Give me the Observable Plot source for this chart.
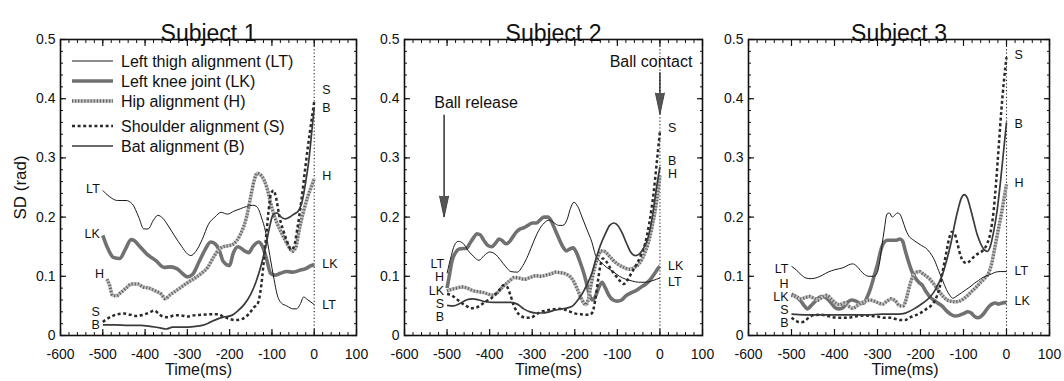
<!DOCTYPE html>
<html><head><meta charset="utf-8">
<script src="https://cdn.jsdelivr.net/npm/d3@7"></script>
<script src="https://cdn.jsdelivr.net/npm/@observablehq/plot@0.6"></script>
<style>
body{margin:0;background:#fff;}
#wrap{position:relative;width:1064px;height:381px;font-family:"Liberation Sans",Arial,sans-serif;overflow:hidden;}
#wrap svg.p{position:absolute;top:0;}
</style></head><body><div id="wrap"></div>
<script>
// ---------- data ----------
const subjects = ["Subject 1", "Subject 2", "Subject 3"];
const xTicks = [-600, -500, -400, -300, -200, -100, 0, 100];
const yTicks = [0, 0.1, 0.2, 0.3, 0.4, 0.5];
const seriesKeys = ["LT", "LK", "H", "S", "B"];
const seriesNames = ["Left thigh alignment (LT)", "Left knee joint (LK)", "Hip alignment (H)", "Shoulder alignment (S)", "Bat alignment (B)"];

// Subject 1  [time (ms), SD (rad)]
const s1_LT = [[-500,0.245],[-485,0.235],[-465,0.228],[-445,0.228],[-430,0.222],[-415,0.2],[-403,0.18],[-393,0.18],[-380,0.195],[-370,0.203],[-358,0.198],[-345,0.185],[-330,0.168],[-313,0.15],[-300,0.138],[-292,0.135],[-280,0.142],[-265,0.162],[-250,0.188],[-235,0.2],[-220,0.208],[-205,0.205],[-190,0.21],[-175,0.214],[-160,0.218],[-145,0.22],[-135,0.217],[-125,0.2],[-115,0.175],[-105,0.135],[-95,0.095],[-88,0.07],[-78,0.055],[-65,0.05],[-50,0.045],[-42,0.045],[-33,0.053],[-25,0.065],[-15,0.06],[-5,0.055],[0,0.052]];
const s1_LK = [[-500,0.169],[-490,0.15],[-475,0.132],[-460,0.13],[-447,0.145],[-433,0.162],[-425,0.16],[-412,0.15],[-395,0.137],[-375,0.127],[-355,0.115],[-340,0.116],[-325,0.113],[-312,0.105],[-300,0.099],[-288,0.103],[-272,0.125],[-258,0.145],[-245,0.158],[-235,0.155],[-225,0.145],[-215,0.125],[-200,0.118],[-192,0.138],[-180,0.15],[-165,0.143],[-155,0.14],[-145,0.15],[-132,0.158],[-122,0.15],[-113,0.13],[-103,0.105],[-93,0.102],[-80,0.105],[-65,0.108],[-50,0.107],[-35,0.11],[-20,0.113],[-10,0.117],[0,0.12]];
const s1_H = [[-490,0.095],[-484,0.085],[-477,0.068],[-468,0.067],[-458,0.072],[-445,0.08],[-432,0.087],[-418,0.087],[-405,0.082],[-390,0.08],[-375,0.075],[-362,0.07],[-352,0.062],[-342,0.068],[-328,0.075],[-312,0.083],[-298,0.09],[-280,0.098],[-265,0.106],[-252,0.115],[-240,0.13],[-228,0.143],[-215,0.15],[-200,0.152],[-190,0.155],[-175,0.17],[-160,0.2],[-150,0.235],[-142,0.262],[-135,0.274],[-125,0.27],[-112,0.25],[-100,0.215],[-88,0.19],[-75,0.17],[-62,0.152],[-52,0.142],[-44,0.148],[-35,0.18],[-25,0.21],[-15,0.235],[-5,0.255],[0,0.265]];
const s1_S = [[-500,0.023],[-490,0.028],[-480,0.032],[-465,0.036],[-450,0.037],[-435,0.035],[-420,0.033],[-405,0.035],[-392,0.038],[-378,0.042],[-368,0.037],[-358,0.032],[-345,0.031],[-330,0.034],[-315,0.034],[-300,0.032],[-285,0.034],[-265,0.035],[-245,0.036],[-228,0.036],[-215,0.032],[-200,0.028],[-185,0.026],[-170,0.028],[-155,0.036],[-143,0.047],[-133,0.055],[-126,0.08],[-120,0.12],[-114,0.165],[-108,0.21],[-102,0.24],[-96,0.245],[-90,0.232],[-82,0.2],[-72,0.175],[-62,0.155],[-55,0.145],[-48,0.15],[-40,0.18],[-30,0.23],[-20,0.29],[-10,0.345],[-3,0.38],[0,0.395]];
const s1_B = [[-500,0.018],[-470,0.018],[-440,0.017],[-410,0.017],[-385,0.015],[-365,0.013],[-350,0.011],[-335,0.014],[-310,0.014],[-285,0.015],[-265,0.017],[-250,0.021],[-235,0.026],[-215,0.031],[-195,0.034],[-180,0.042],[-165,0.053],[-150,0.07],[-138,0.09],[-125,0.12],[-115,0.15],[-105,0.185],[-98,0.203],[-88,0.207],[-78,0.2],[-68,0.197],[-58,0.2],[-48,0.205],[-38,0.21],[-28,0.228],[-20,0.26],[-12,0.3],[-5,0.35],[0,0.385]];

// Subject 2
const s2_LT = [[-500,0.105],[-490,0.135],[-483,0.152],[-474,0.159],[-463,0.156],[-450,0.143],[-437,0.133],[-425,0.127],[-413,0.135],[-400,0.141],[-388,0.138],[-375,0.128],[-362,0.116],[-350,0.108],[-335,0.107],[-322,0.118],[-310,0.135],[-297,0.158],[-285,0.177],[-272,0.19],[-260,0.195],[-248,0.19],[-238,0.186],[-228,0.186],[-218,0.196],[-210,0.215],[-202,0.225],[-193,0.218],[-183,0.2],[-172,0.18],[-160,0.158],[-151,0.135],[-140,0.125],[-125,0.115],[-110,0.108],[-95,0.1],[-80,0.095],[-65,0.092],[-50,0.09],[-35,0.09],[-20,0.092],[-8,0.095],[0,0.097]];
const s2_LK = [[-500,0.08],[-495,0.1],[-488,0.127],[-480,0.14],[-472,0.146],[-462,0.147],[-455,0.147],[-447,0.155],[-438,0.165],[-430,0.172],[-422,0.17],[-413,0.16],[-404,0.152],[-395,0.15],[-386,0.156],[-378,0.163],[-370,0.16],[-362,0.155],[-354,0.158],[-345,0.167],[-337,0.175],[-328,0.18],[-320,0.182],[-310,0.186],[-300,0.19],[-290,0.19],[-282,0.195],[-272,0.2],[-263,0.2],[-255,0.193],[-247,0.18],[-238,0.165],[-228,0.15],[-220,0.143],[-212,0.146],[-204,0.148],[-196,0.14],[-188,0.125],[-180,0.108],[-173,0.09],[-166,0.07],[-158,0.06],[-151,0.067],[-143,0.082],[-136,0.09],[-128,0.08],[-120,0.068],[-110,0.06],[-100,0.058],[-90,0.06],[-80,0.067],[-68,0.072],[-56,0.076],[-44,0.082],[-33,0.087],[-22,0.095],[-12,0.105],[-5,0.113],[0,0.117]];
const s2_H = [[-500,0.075],[-490,0.078],[-478,0.08],[-465,0.082],[-452,0.08],[-440,0.076],[-428,0.074],[-416,0.073],[-404,0.07],[-392,0.068],[-382,0.072],[-372,0.08],[-362,0.087],[-352,0.093],[-342,0.098],[-330,0.097],[-318,0.095],[-305,0.098],[-292,0.101],[-280,0.1],[-268,0.102],[-256,0.104],[-245,0.107],[-233,0.106],[-221,0.104],[-212,0.1],[-203,0.092],[-195,0.08],[-188,0.068],[-180,0.056],[-174,0.052],[-168,0.062],[-162,0.085],[-155,0.11],[-147,0.13],[-138,0.143],[-130,0.142],[-120,0.135],[-110,0.127],[-98,0.12],[-85,0.115],[-72,0.112],[-60,0.115],[-48,0.122],[-38,0.135],[-28,0.155],[-18,0.185],[-8,0.225],[0,0.27]];
const s2_S = [[-500,0.07],[-490,0.068],[-478,0.062],[-466,0.055],[-455,0.05],[-444,0.046],[-432,0.047],[-420,0.052],[-408,0.058],[-396,0.063],[-386,0.07],[-376,0.078],[-368,0.085],[-360,0.083],[-352,0.07],[-344,0.052],[-336,0.04],[-326,0.033],[-315,0.03],[-303,0.03],[-292,0.035],[-280,0.04],[-268,0.042],[-255,0.044],[-240,0.045],[-225,0.044],[-210,0.04],[-198,0.037],[-186,0.036],[-175,0.035],[-165,0.035],[-158,0.04],[-152,0.06],[-146,0.09],[-140,0.118],[-134,0.13],[-126,0.125],[-116,0.113],[-105,0.102],[-95,0.093],[-85,0.087],[-75,0.095],[-65,0.108],[-55,0.12],[-45,0.135],[-35,0.155],[-25,0.19],[-15,0.24],[-7,0.295],[0,0.345]];
const s2_B = [[-500,0.051],[-485,0.05],[-470,0.054],[-455,0.06],[-440,0.062],[-425,0.06],[-410,0.057],[-390,0.056],[-370,0.056],[-350,0.056],[-335,0.053],[-320,0.045],[-305,0.04],[-290,0.038],[-275,0.038],[-260,0.04],[-245,0.043],[-230,0.045],[-215,0.047],[-205,0.05],[-195,0.058],[-183,0.07],[-172,0.085],[-160,0.105],[-150,0.13],[-140,0.152],[-128,0.172],[-118,0.186],[-108,0.19],[-98,0.185],[-88,0.172],[-78,0.155],[-68,0.14],[-58,0.135],[-48,0.138],[-38,0.148],[-28,0.165],[-18,0.2],[-8,0.25],[0,0.285]];

// Subject 3
const s3_LT = [[-500,0.117],[-488,0.11],[-478,0.103],[-466,0.097],[-454,0.096],[-440,0.098],[-428,0.102],[-415,0.107],[-400,0.111],[-388,0.113],[-378,0.115],[-368,0.119],[-358,0.121],[-348,0.117],[-340,0.11],[-330,0.103],[-320,0.1],[-310,0.1],[-302,0.104],[-296,0.12],[-290,0.15],[-284,0.18],[-278,0.205],[-272,0.207],[-266,0.2],[-260,0.203],[-254,0.207],[-248,0.205],[-242,0.195],[-235,0.18],[-227,0.168],[-218,0.162],[-208,0.157],[-198,0.152],[-188,0.148],[-178,0.14],[-168,0.128],[-158,0.11],[-148,0.092],[-140,0.078],[-132,0.068],[-125,0.063],[-115,0.067],[-105,0.072],[-95,0.077],[-85,0.082],[-75,0.088],[-65,0.093],[-55,0.098],[-45,0.101],[-35,0.104],[-25,0.107],[-15,0.108],[0,0.108]];
const s3_LK = [[-500,0.07],[-488,0.065],[-479,0.059],[-470,0.05],[-463,0.045],[-455,0.05],[-447,0.056],[-438,0.063],[-430,0.066],[-420,0.064],[-410,0.057],[-400,0.048],[-390,0.045],[-380,0.047],[-370,0.056],[-360,0.06],[-350,0.058],[-340,0.054],[-332,0.055],[-324,0.065],[-316,0.08],[-308,0.1],[-300,0.12],[-292,0.145],[-284,0.158],[-276,0.161],[-266,0.161],[-256,0.161],[-248,0.163],[-242,0.16],[-236,0.145],[-228,0.125],[-220,0.108],[-212,0.097],[-204,0.09],[-196,0.085],[-188,0.075],[-180,0.067],[-170,0.06],[-160,0.055],[-150,0.05],[-140,0.042],[-130,0.036],[-120,0.033],[-110,0.034],[-100,0.037],[-90,0.04],[-82,0.038],[-74,0.032],[-66,0.03],[-58,0.033],[-50,0.04],[-42,0.048],[-34,0.053],[-26,0.055],[-18,0.053],[-10,0.055],[0,0.056]];
const s3_H = [[-500,0.068],[-488,0.065],[-478,0.062],[-468,0.064],[-458,0.066],[-448,0.063],[-438,0.06],[-428,0.065],[-418,0.068],[-408,0.062],[-398,0.055],[-388,0.052],[-378,0.055],[-368,0.05],[-358,0.046],[-348,0.05],[-338,0.055],[-328,0.058],[-318,0.06],[-308,0.058],[-298,0.055],[-288,0.053],[-278,0.058],[-268,0.062],[-258,0.058],[-248,0.05],[-240,0.05],[-232,0.065],[-225,0.085],[-218,0.1],[-210,0.107],[-202,0.108],[-194,0.104],[-186,0.1],[-178,0.095],[-170,0.088],[-162,0.08],[-154,0.072],[-146,0.065],[-138,0.06],[-130,0.058],[-120,0.057],[-110,0.058],[-100,0.062],[-90,0.068],[-80,0.075],[-70,0.082],[-60,0.09],[-50,0.097],[-42,0.105],[-35,0.12],[-28,0.145],[-20,0.175],[-12,0.205],[-5,0.235],[0,0.255]];
const s3_S = [[-500,0.03],[-490,0.025],[-480,0.022],[-470,0.024],[-460,0.03],[-450,0.034],[-435,0.035],[-420,0.034],[-405,0.031],[-390,0.03],[-375,0.03],[-360,0.031],[-345,0.033],[-330,0.034],[-315,0.033],[-300,0.032],[-285,0.03],[-270,0.03],[-258,0.028],[-246,0.026],[-236,0.026],[-226,0.03],[-216,0.033],[-206,0.036],[-196,0.04],[-186,0.045],[-176,0.05],[-166,0.06],[-156,0.08],[-148,0.11],[-140,0.14],[-133,0.165],[-127,0.175],[-121,0.172],[-114,0.155],[-107,0.135],[-100,0.125],[-93,0.122],[-85,0.126],[-77,0.132],[-69,0.137],[-61,0.14],[-53,0.145],[-45,0.155],[-37,0.175],[-30,0.21],[-24,0.26],[-18,0.32],[-12,0.38],[-6,0.43],[0,0.47]];
const s3_B = [[-500,0.036],[-470,0.035],[-440,0.035],[-410,0.035],[-380,0.035],[-350,0.035],[-320,0.035],[-290,0.036],[-260,0.036],[-240,0.037],[-228,0.04],[-215,0.045],[-200,0.052],[-185,0.06],[-170,0.072],[-158,0.088],[-148,0.105],[-138,0.13],[-128,0.16],[-120,0.19],[-112,0.215],[-105,0.232],[-98,0.238],[-91,0.232],[-84,0.215],[-76,0.192],[-68,0.17],[-60,0.155],[-52,0.145],[-45,0.142],[-38,0.15],[-30,0.175],[-22,0.21],[-14,0.26],[-7,0.31],[0,0.36]];

// series end-label values (SD, rad)
const s1_leftLabels  = [["LT",0.248],["LK",0.172],["H",0.104],["S",0.040],["B",0.017]];
const s1_rightLabels = [["S",0.414],["B",0.385],["H",0.270],["LK",0.120],["LT",0.051]];
const s2_leftLabels  = [["LT",0.121],["H",0.098],["LK",0.076],["S",0.054],["B",0.032]];
const s2_rightLabels = [["S",0.351],["B",0.295],["H",0.272],["LK",0.117],["LT",0.090]];
const s3_leftLabels  = [["LT",0.113],["H",0.087],["LK",0.065],["S",0.043],["B",0.021]];
const s3_rightLabels = [["S",0.473],["B",0.358],["H",0.257],["LT",0.109],["LK",0.059]];

// Subject 2 event annotations: [label, time, arrow top, arrow tip, label time, label SD]
const s2_events = [["Ball release",-507,0.372,0.200,-432,0.393],["Ball contact",0,0.444,0.374,-21,0.463]];

// ---------- drawing ----------
const FONT = '"Liberation Sans", Arial, Helvetica, sans-serif';
const xMinor = d3.range(-600, 101, 20);
const yMinor = d3.range(0, 26).map(i => i / 50);
const drawOrder = ["LK", "H", "LT", "S", "B"];
const styles = {
  LT: [{stroke: "#1a1a1a", strokeWidth: 1}],
  LK: [{stroke: "#717171", strokeWidth: 3.6}],
  H:  [{stroke: "#bdbdbd", strokeWidth: 3.4}, {stroke: "#616161", strokeWidth: 3.4, strokeDasharray: "1.1,2"}],
  S:  [{stroke: "#2a2a2a", strokeWidth: 2.5, strokeDasharray: "3,2.6"}],
  B:  [{stroke: "#3a3a3a", strokeWidth: 1.7}]
};

const panels = [
  {series: {LT: s1_LT, LK: s1_LK, H: s1_H, S: s1_S, B: s1_B}, leftLabels: s1_leftLabels, rightLabels: s1_rightLabels, events: [], left: 0,   width: 360, mL: 60, mR: 4,  xLabDx: -10, yLabel: true},
  {series: {LT: s2_LT, LK: s2_LK, H: s2_H, S: s2_S, B: s2_B}, leftLabels: s2_leftLabels, rightLabels: s2_rightLabels, events: s2_events, left: 360, width: 350, mL: 44, mR: 8,  xLabDx: -5, yLabel: false},
  {series: {LT: s3_LT, LK: s3_LK, H: s3_H, S: s3_S, B: s3_B}, leftLabels: s3_leftLabels, rightLabels: s3_rightLabels, events: [], left: 710, width: 354, mL: 38, mR: 15, xLabDx: 6, yLabel: false}
];

const wrap = document.getElementById("wrap");

panels.forEach((p, i) => {
  const marks = [];
  marks.push(Plot.ruleX([0], {stroke: "#222", strokeWidth: 1.1, strokeDasharray: "1.2,2.2"}));
  for (const k of drawOrder) {
    const data = p.series[k].map(([t, v]) => ({t, v}));
    for (const st of styles[k]) marks.push(Plot.line(data, {x: "t", y: "v", curve: "monotone-x", strokeLinejoin: "round", strokeLinecap: "butt", ...st}));
  }
  // end labels
  marks.push(Plot.text(p.leftLabels, {x: d => p.series[d[0]][0][0], y: d => d[1], text: d => d[0], textAnchor: "end", dx: -3, fontSize: 12.5, fill: "#111"}));
  marks.push(Plot.text(p.rightLabels, {x: d => p.series[d[0]][p.series[d[0]].length - 1][0], y: d => d[1], text: d => d[0], textAnchor: "start", dx: 8, fontSize: 12.5, fill: "#111"}));
  // event arrows
  if (p.events.length) {
    marks.push(Plot.ruleX(p.events, {x: d => d[1], y1: d => d[3], y2: d => d[2], stroke: "#222", strokeWidth: 1.4}));
    marks.push(Plot.vector(p.events, {x: d => d[1], y: d => d[3], length: 21, r: 4.5, rotate: 180, anchor: "end", shape: "spike", fill: "#555", stroke: "#444", strokeWidth: 1}));
    marks.push(Plot.text(p.events, {x: d => d[4], y: d => d[5], text: d => d[0], fontSize: 16, fill: "#111"}));
  }
  // axes: inward ticks on all four sides
  for (const a of ["bottom", "top"]) {
    marks.push(Plot.axisX(xTicks, {anchor: a, tickSize: -6, fill: "none", label: null, strokeWidth: 1.2}));
    marks.push(Plot.axisX(xMinor, {anchor: a, tickSize: -3, fill: "none", label: null}));
  }
  for (const a of ["left", "right"]) {
    marks.push(Plot.axisY(yTicks, {anchor: a, tickSize: -6, fill: "none", label: null, strokeWidth: 1.2}));
    marks.push(Plot.axisY(yMinor, {anchor: a, tickSize: -3, fill: "none", label: null}));
  }
  marks.push(Plot.axisX(xTicks, {anchor: "bottom", tickSize: 0, tickPadding: 14, tickFormat: d => String(d), fontSize: 14, label: null, fill: "#111"}));
  marks.push(Plot.axisY(yTicks, {anchor: "left", tickSize: 0, tickPadding: 5, tickFormat: d => String(d), fontSize: 14, label: null, fill: "#111"}));
  marks.push(Plot.frame({stroke: "#111", strokeWidth: 1.6}));
  // titles
  marks.push(Plot.text([subjects[i]], {frameAnchor: "top", dy: -15, fontSize: 23, fill: "#111"}));
  marks.push(Plot.text(["Time(ms)"], {frameAnchor: "bottom", dy: 39, dx: p.xLabDx, fontSize: 16, fill: "#111"}));
  if (p.yLabel) marks.push(Plot.text(["SD (rad)"], {frameAnchor: "left", dx: -40, rotate: -90, textAnchor: "middle", fontSize: 17, fill: "#111"}));

  const svg = Plot.plot({
    width: p.width, height: 381,
    marginLeft: p.mL, marginRight: p.mR, marginTop: 39, marginBottom: 46,
    x: {domain: [-600, 100]},
    y: {domain: [0, 0.5]},
    style: {background: "transparent", overflow: "visible", fontFamily: FONT, fontSize: "14px", color: "#111"},
    marks
  });
  svg.classList.add("p");
  svg.style.left = p.left + "px";
  wrap.appendChild(svg);
});

// ---------- legend (inside Subject 1 panel) ----------
const legendRowY = [61, 81, 101, 126, 146];
const leg = d3.select(wrap).append("svg").attr("width", 1064).attr("height", 381)
  .style("position", "absolute").style("left", 0).style("top", 0);
seriesKeys.forEach((k, i) => {
  const y = legendRowY[i];
  for (const st of styles[k]) {
    leg.append("line").attr("x1", 72).attr("x2", 113).attr("y1", y).attr("y2", y)
      .attr("stroke", st.stroke).attr("stroke-width", st.strokeWidth)
      .attr("stroke-dasharray", st.strokeDasharray || null);
  }
  leg.append("text").attr("x", 121).attr("y", y).attr("dy", "0.35em")
    .attr("font-family", FONT).attr("font-size", 16).attr("fill", "#111").text(seriesNames[i]);
});
</script></body></html>
